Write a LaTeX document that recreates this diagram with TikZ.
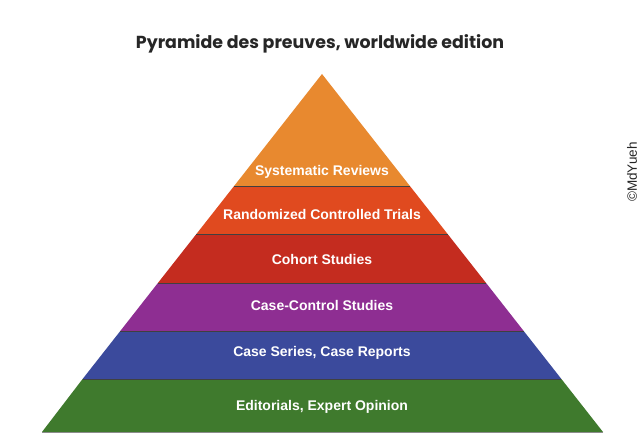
\documentclass[tikz,border=0pt]{standalone}
\usepackage{fontspec}
\setmainfont{Liberation Sans}
\newfontfamily\titlefont{Poppins}
\definecolor{cSR}{HTML}{E8892F}
\definecolor{cRCT}{HTML}{E04A1F}
\definecolor{cCoh}{HTML}{C42C1F}
\definecolor{cCC}{HTML}{8E2E92}
\definecolor{cCS}{HTML}{3B4A9C}
\definecolor{cEd}{HTML}{3F7A2D}
\tikzset{
  sep/.style={draw=black!75, line width=0.9pt},
  lbl/.style={text=white, font=\fontsize{14}{16}\selectfont\bfseries, anchor=center},
}
\begin{document}
\begin{tikzpicture}[x=1pt,y=-1pt]
\useasboundingbox[fill=white] (0,0) rectangle (640,444);
% bands
\fill[cSR]  (322,74) -- (409.9,186) -- (234.1,186) -- cycle;
\fill[cRCT] (234.1,186) -- (409.9,186) -- (447.6,234) -- (196.4,234) -- cycle;
\fill[cCoh] (196.4,234) -- (447.6,234) -- (486.1,283) -- (157.9,283) -- cycle;
\fill[cCC]  (157.9,283) -- (486.1,283) -- (523.7,331) -- (120.3,331) -- cycle;
\fill[cCS]  (120.3,331) -- (523.7,331) -- (561.4,379) -- (82.6,379) -- cycle;
\fill[cEd]  (82.6,379) -- (561.4,379) -- (603,432) -- (42,432) -- cycle;
% separators
\draw[sep] (234.1,186) -- (409.9,186);
\draw[sep] (196.4,234) -- (447.6,234);
\draw[sep] (157.9,283) -- (486.1,283);
\draw[sep] (120.3,331) -- (523.7,331);
\draw[sep] (82.6,379) -- (561.4,379);
\draw[draw=black!45, line width=0.6pt] (42,432) -- (603,432);
% labels
\node[lbl] (sr)  at (322,172) {Systematic Reviews};
\node[lbl] (rct) at (322,214) {Randomized Controlled Trials};
\node[lbl] (coh) at (322,259) {Cohort Studies};
\node[lbl] (cc)  at (322,305) {Case-Control Studies};
\node[lbl] (cs)  at (322,353) {Case Series, Case Reports};
\node[lbl] (ed)  at (322,407) {Editorials, Expert Opinion};
% title
\node[font=\titlefont\fontsize{17.4}{20}\selectfont\bfseries, text=black!85] (title) at (320,44) {Pyramide des preuves, worldwide edition};
% watermark
\node[rotate=90, font=\fontsize{13.5}{15}\selectfont, text=black!85] (wm) at (632,172) {©MdYueh};
\end{tikzpicture}
\end{document}
